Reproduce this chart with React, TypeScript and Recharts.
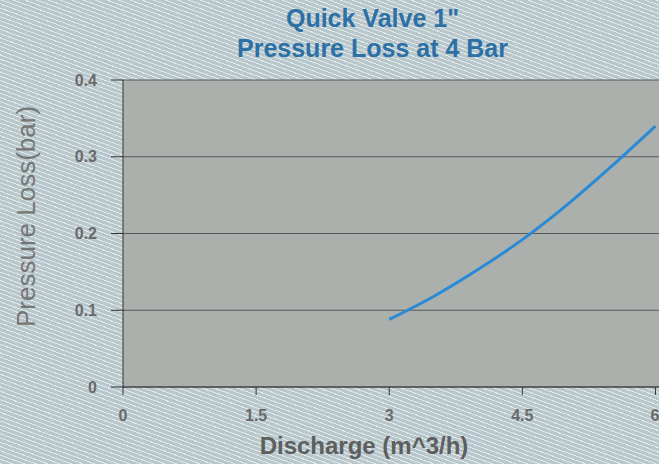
import { LineChart, Line, XAxis, YAxis, CartesianGrid, Label } from "recharts";

const dischargeValues = [3, 3.5, 4, 4.5, 5, 5.5, 6];
const pressureLossValues = [0.088, 0.118, 0.153, 0.192, 0.237, 0.287, 0.34];
const xTicks = [0, 1.5, 3, 4.5, 6];
const yTicks = [0, 0.1, 0.2, 0.3, 0.4];

const data = dischargeValues.map((x, i) => ({ x, y: pressureLossValues[i] }));

const FONT = "'Liberation Sans', Arial, sans-serif";

function YAxisTitle(props: any) {
  const vb = props.viewBox || {};
  const cx = 26;
  const cy = (vb.y ?? 80) + (vb.height ?? 307) / 2 - 17;
  return (
    <text
      x={cx}
      y={cy}
      transform={`rotate(-90, ${cx}, ${cy})`}
      textAnchor="middle"
      dominantBaseline="central"
      fill="#767676"
      fontSize={26}
      fontFamily={FONT}
    >
      Pressure Loss(bar)
    </text>
  );
}

export default function App() {
  return (
    <div
      style={{
        position: "absolute",
        left: 0,
        top: 0,
        width: 659,
        height: 464,
        overflow: "hidden",
        fontFamily: FONT,
        backgroundColor: "#b7c7cc",
        backgroundImage:
          "repeating-linear-gradient(20deg, rgba(255,255,255,0.6) 0px, rgba(255,255,255,0.6) 1px, transparent 1px, transparent 4px)",
      }}
    >
      <div
        style={{
          position: "absolute",
          left: 0,
          top: 3,
          width: 745,
          textAlign: "center",
          color: "#2c70a6",
          fontWeight: "bold",
          fontSize: 25,
          lineHeight: "30px",
        }}
      >
        Quick Valve 1"
        <br />
        Pressure Loss at 4 Bar
      </div>
      <LineChart
        width={659}
        height={464}
        data={data}
        margin={{ top: 80, right: 0, left: 63, bottom: 47 }}
        style={{ position: "absolute", left: 0, top: 0 }}
      >
        <CartesianGrid
          vertical={false}
          fill="#abb0ad"
          fillOpacity={1}
          stroke="#5a5a5a"
          strokeWidth={1}
          horizontalValues={yTicks}
        />
        <XAxis
          type="number"
          dataKey="x"
          domain={[0, 6.04]}
          ticks={xTicks}
          height={30}
          tickSize={8}
          tickMargin={15}
          stroke="#333"
          tick={{ fill: "#6a6a6a", fontSize: 16, fontWeight: "bold", fontFamily: FONT }}
        >
          <Label
            value="Discharge (m^3/h)"
            position="insideBottom"
            offset={-37}
            dx={-27}
            style={{ fill: "#5e5e5e", fontSize: 24, fontWeight: "bold", fontFamily: FONT }}
          />
        </XAxis>
        <YAxis
          type="number"
          domain={[0, 0.4]}
          ticks={yTicks}
          width={60}
          tickSize={12}
          tickMargin={14}
          stroke="#333"
          tick={{ fill: "#6a6a6a", fontSize: 16, fontWeight: "bold", fontFamily: FONT }}
        >
          <Label content={YAxisTitle} />
        </YAxis>
        <Line
          type="natural"
          dataKey="y"
          stroke="#2a8ad6"
          strokeWidth={3}
          dot={false}
          isAnimationActive={false}
        />
      </LineChart>
    </div>
  );
}
